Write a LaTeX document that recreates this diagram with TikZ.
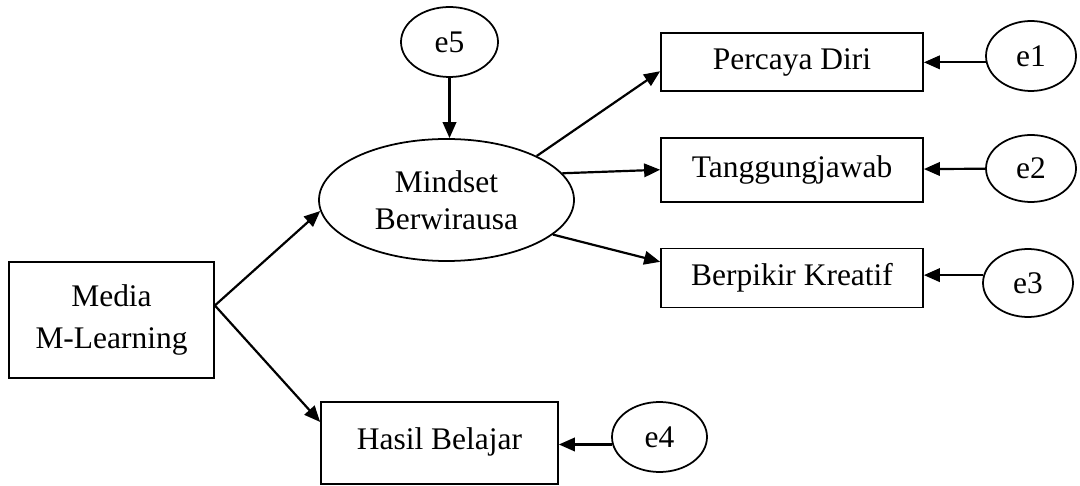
\documentclass[tikz,border=0pt]{standalone}
\usepackage{fontspec}
\setmainfont{Liberation Serif}
\usepackage{tikz}
\usetikzlibrary{shapes.geometric, arrows.meta, positioning, calc}

\begin{document}
\begin{tikzpicture}[
    node distance=0.9cm,
    every node/.style={font=\fontsize{17.9}{21}\selectfont},
    obsbox/.style={draw, line width=1pt, minimum width=5.24cm, align=center, inner sep=0pt},
    latent/.style={draw, ellipse, line width=1pt, align=center, inner sep=0pt},
    errvar/.style={draw, ellipse, line width=1pt, minimum width=1.8cm, minimum height=1.4cm, inner sep=0pt},
    path/.style={-{Triangle[length=3.2mm, width=2.7mm]}, line width=1.25pt}
]
    \useasboundingbox (0,0) rectangle (21.6,9.7);

    \node[obsbox, minimum width=4.1cm, minimum height=2.32cm, font=\fontsize{17.9}{24.4}\selectfont] (media) at (2.23,3.30) {Media\\M-Learning};
    \node[latent, minimum width=5.1cm, minimum height=2.44cm] (mindset) at (8.93,5.70) {Mindset\\Berwirausa};
    \node[obsbox, minimum width=4.74cm, minimum height=1.64cm] (hasil) at (8.79,0.84) {\raisebox{0.16cm}{Hasil Belajar}};

    \node[obsbox, minimum height=1.16cm] (pd) at (15.84,8.46) {Percaya Diri};
    \node[obsbox, minimum height=1.28cm, below=of pd] (tj) {Tanggungjawab};
    \node[obsbox, minimum height=1.18cm, below=of tj] (bk) {Berpikir Kreatif};

    \node[errvar] (e1) at (20.62,8.58) {e1};
    \node[errvar, minimum height=1.34cm] (e2) at (20.62,6.33) {e2};
    \node[errvar, minimum height=1.36cm] (e3) at (20.56,4.04) {e3};
    \node[errvar, minimum width=1.9cm] (e4) at (13.19,0.96) {e4};
    \node[errvar, minimum width=1.94cm] (e5) at (8.99,8.86) {e5};

    \draw[path] (media.8) -- (mindset.185);
    \draw[path] (media.8) -- (hasil.170);
    \draw[path] (e5) -- (e5 |- mindset.north);
    \draw[path] (mindset.26) -- (pd.184);
    \draw[path] (mindset.13) -- (tj.west);
    \draw[path] (mindset.-18) -- (bk.173);

    \draw[path] (e1.188) -- (e1.188 -| pd.east);
    \draw[path] (e2) -- (tj);
    \draw[path] (e3.170) -- (e3.170 -| bk.east);
    \draw[path] (e4.189) -- (e4.189 -| hasil.east);
\end{tikzpicture}
\end{document}
